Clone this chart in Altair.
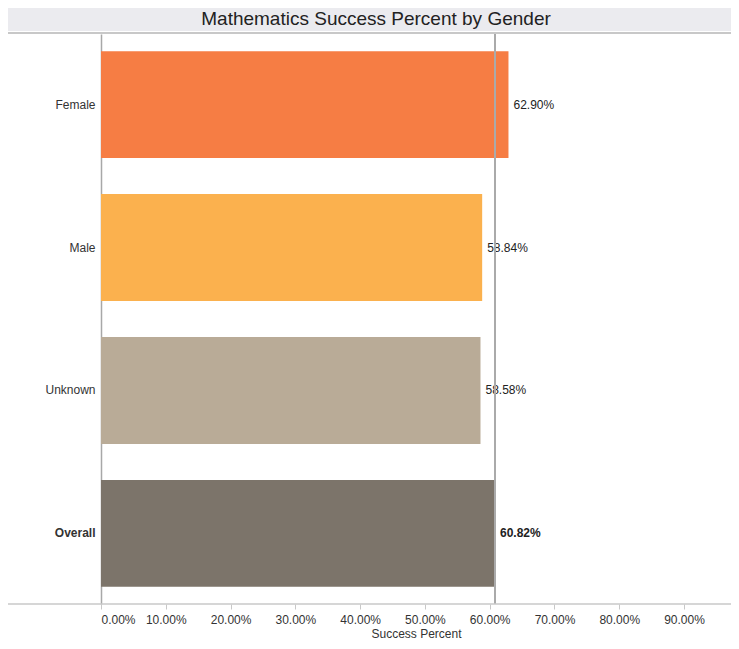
import altair as alt
import pandas as pd

genders = ["Female", "Male", "Unknown", "Overall"]
success = [0.6290, 0.5884, 0.5858, 0.6082]
colors = ["#F67D44", "#FBB14E", "#B9AB97", "#7C746A"]
overall_value = [0.6082]
tick_values = [0.0, 0.1, 0.2, 0.3, 0.4, 0.5, 0.6, 0.7, 0.8, 0.9]
title_text = ["Mathematics Success Percent by Gender"]

W, H = 630, 570
FONT = "Liberation Sans"

df = pd.DataFrame({"Gender": genders, "Success": success})
ref_df = pd.DataFrame({"Overall": overall_value})
title_df = pd.DataFrame({"t": title_text})
one = pd.DataFrame({"a": [0]})

x_scale = alt.Scale(domain=[0, 0.9725], nice=False, zero=True)
y_scale = alt.Scale(domain=genders, paddingInner=0.252, paddingOuter=0.12)

bold_cond = {"condition": {"test": "datum.value === 'Overall'", "value": "bold"}, "value": "normal"}

bars = alt.Chart(df).mark_bar().encode(
    y=alt.Y("Gender:N", scale=y_scale, sort=genders,
            axis=alt.Axis(title=None, ticks=False, domain=True, domainColor="#A8A8A8",
                          domainWidth=1.5, labelFont=FONT, labelFontSize=12,
                          labelColor="#333333", labelPadding=6, grid=False,
                          labelFontWeight=bold_cond)),
    x=alt.X("Success:Q", scale=x_scale,
            axis=alt.Axis(title="Success Percent", format=".2%", values=tick_values,
                          domain=False, grid=False, tickColor="#C8C8C8", tickSize=5,
                          labelFlush=True, labelFont=FONT, labelFontSize=12,
                          labelColor="#333333", labelPadding=5, titleFont=FONT,
                          titleFontSize=12, titleFontWeight="normal",
                          titleColor="#333333", titlePadding=3)),
    color=alt.Color("Gender:N", scale=alt.Scale(domain=genders, range=colors), legend=None),
)

def label_layer(test, weight):
    return alt.Chart(df).transform_filter(test).mark_text(
        align="left", baseline="middle", dx=5, font=FONT, fontSize=12,
        color="#222222", fontWeight=weight).encode(
        y=alt.Y("Gender:N", scale=y_scale, sort=genders),
        x=alt.X("Success:Q", scale=x_scale),
        text=alt.Text("Success:Q", format=".2%"),
    )

labels_normal = label_layer("datum.Gender !== 'Overall'", "normal")
labels_bold = label_layer("datum.Gender === 'Overall'", "bold")

ref = alt.Chart(ref_df).mark_rule(color="#AAAAAA", strokeWidth=2).encode(
    x=alt.X("Overall:Q", scale=x_scale),
    y=alt.value(0),
    y2=alt.value(H),
)

bottom_line = alt.Chart(one).mark_rule(color="#C8C8C8", strokeWidth=1.5).encode(
    x=alt.value(-93), x2=alt.value(W), y=alt.value(H),
)

title_bg = alt.Chart(one).mark_rect(color="#EBEBEF").encode(
    x=alt.value(-93), x2=alt.value(W), y=alt.value(-26), y2=alt.value(-3),
)

title_line = alt.Chart(one).mark_rule(color="#C8C8C8", strokeWidth=2).encode(
    x=alt.value(-93), x2=alt.value(W), y=alt.value(-1),
)

title = alt.Chart(title_df).mark_text(font=FONT, fontSize=19, color="#222222",
                                      align="center", baseline="middle").encode(
    x=alt.value(275), y=alt.value(-15), text="t:N",
)

chart = alt.layer(title_bg, title_line, title, bars, labels_normal, labels_bold,
                  ref, bottom_line).properties(
    width=W, height=H,
    padding={"left": 93, "top": 26, "right": 0, "bottom": 37},
    autosize=alt.AutoSizeParams(type="none"),
).configure_view(stroke=None)

chart.save("out.html", embed_options={"renderer": "svg", "actions": False})
